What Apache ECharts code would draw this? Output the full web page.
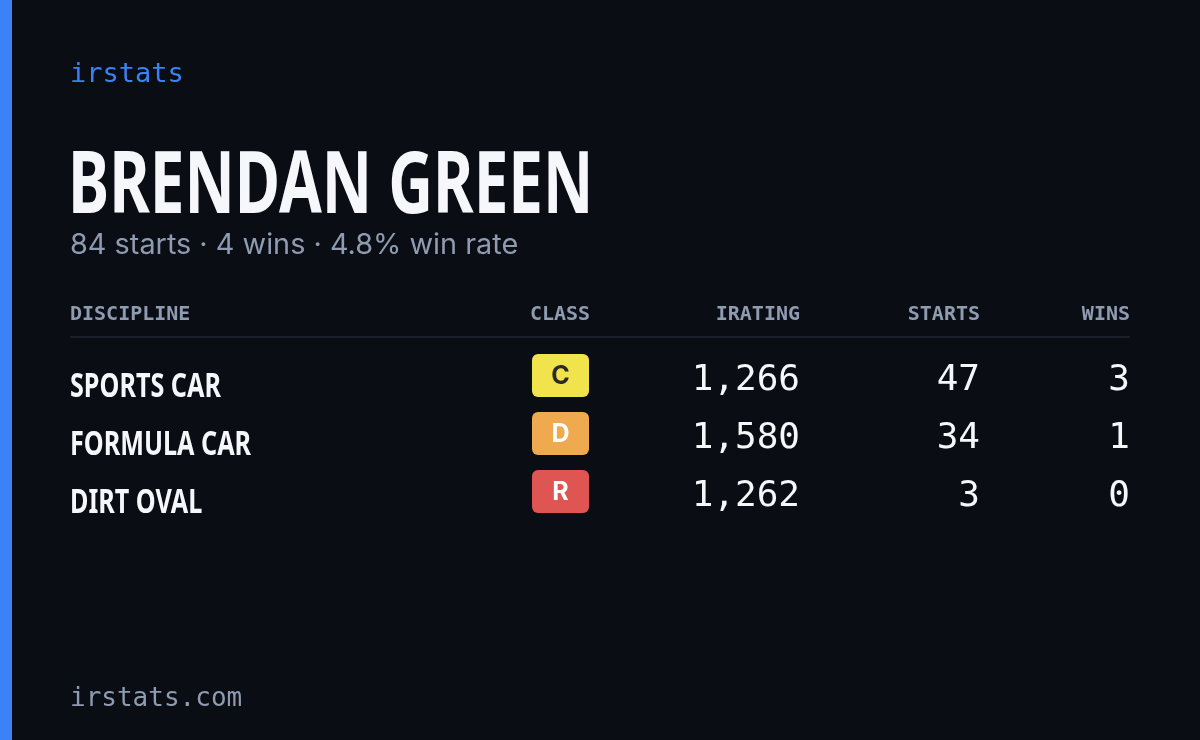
<!DOCTYPE html>
<html><head><meta charset="utf-8">
<script src="https://cdn.jsdelivr.net/npm/echarts@6/dist/echarts.min.js"></script>
<style>html,body{margin:0;padding:0;background:#0a0d14}#c{width:1200px;height:740px}</style>
</head><body><div id="c"></div>
<script>
// card data
const driver = 'BRENDAN GREEN'
const summary = '84 starts · 4 wins · 4.8% win rate'
const headers = ['DISCIPLINE', 'CLASS', 'IRATING', 'STARTS', 'WINS']
const disciplines = ['SPORTS CAR', 'FORMULA CAR', 'DIRT OVAL']
const classes = ['C', 'D', 'R']
const iratings = [1266, 1580, 1262]
const starts = [47, 34, 3]
const wins = [3, 1, 0]

const classColors = { C: ['#f1e34c', '#2a2a2a'], D: ['#efa94e', '#ffffff'], R: ['#de5551', '#ffffff'] }
const mono = '"DejaVu Sans Mono", monospace'
const cond = '"Noto Sans", "DejaVu Sans", sans-serif'
const sans = 'Inter, "Noto Sans", sans-serif'

const txt = (x, y, text, font, fill, align, sx) => ({
  type: 'text', x, y, scaleX: sx || 1,
  style: { text, font, fill, textAlign: align || 'left', textVerticalAlign: 'middle' }
})

const els = [
  { type: 'rect', shape: { x: 0, y: 0, width: 12, height: 740 }, style: { fill: '#3b82f6' } },
  txt(70, 75, 'irstats', '500 27px ' + mono, '#3b82f6'),
  txt(68, 188, driver, 'bold 86px ' + cond, '#f5f7fb', 'left', 0.72),
  txt(70, 246, summary, '28px ' + sans, '#8f9bb0', 'left', 1.03),
  { type: 'rect', shape: { x: 70, y: 336, width: 1060, height: 2 }, style: { fill: '#1a1f2b' } },
  txt(70, 699, 'irstats.com', '26px ' + mono, '#8f9bb0')
]

const hx = [70, 560, 800, 980, 1130]
const ha = ['left', 'center', 'right', 'right', 'right']
headers.forEach((h, i) => els.push(txt(hx[i], 315, h, 'bold 20px ' + mono, '#8f9bb0', ha[i])))

const fmt = v => v.toLocaleString('en-US')
disciplines.forEach((d, i) => {
  const y = 378 + i * 58
  els.push(txt(70, y + 9, d, 'bold 34px ' + cond, '#f5f7fb', 'left', 0.74))
  const col = classColors[classes[i]]
  els.push({ type: 'rect', shape: { x: 532, y: y - 24, width: 57, height: 43, r: 6 }, style: { fill: col[0] } })
  els.push(txt(560.5, y - 2, classes[i], 'bold 25px ' + sans, col[1], 'center'))
  els.push(txt(800, y + 3, fmt(iratings[i]), '500 36px ' + mono, '#f5f7fb', 'right'))
  els.push(txt(980, y + 3, String(starts[i]), '500 36px ' + mono, '#f5f7fb', 'right'))
  els.push(txt(1130, y + 3, String(wins[i]), '500 36px ' + mono, '#f5f7fb', 'right'))
})

const chart = echarts.init(document.getElementById('c'))
chart.setOption({ backgroundColor: '#0a0d14', graphic: { elements: els } })
</script>
</body></html>
